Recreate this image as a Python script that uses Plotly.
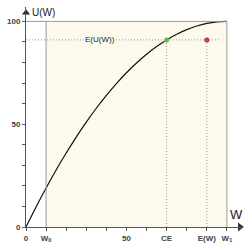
import plotly.graph_objects as go

# Data
W0 = 10
W1 = 100
CE = 70
EW = 90
EU = 91
curve_w = [0, 5, 10, 15, 20, 25, 30, 35, 40, 45, 50, 55, 60, 65, 70, 75, 80, 85, 90, 95, 100]
curve_u = [0, 9.75, 19, 27.75, 36, 43.75, 51, 57.75, 64, 69.75, 75, 79.75, 84, 87.75, 91, 93.75, 96, 97.75, 99, 99.75, 100]
xtick_vals = [0, W0, 50, CE, EW, W1]
xtick_text = ["0", "W<sub>0</sub>", "50", "CE", "E(W)", "W<sub>1</sub>"]
ytick_vals = [0, 50, 100]
ytick_text = ["0", "50", "100"]

gray = "#9a9a9a"
fig = go.Figure()

fig.add_shape(type="rect", x0=W0, x1=W1, y0=0, y1=100, xref="x", yref="y",
              fillcolor="#fdf9ec", line_width=0, layer="below")
fig.add_shape(type="line", x0=0, x1=W1, y0=100, y1=100, line=dict(color=gray, width=1))
fig.add_shape(type="line", x0=W0, x1=W0, y0=0, y1=100, line=dict(color=gray, width=1))
fig.add_shape(type="line", x0=W1, x1=W1, y0=0, y1=100, line=dict(color=gray, width=1))
fig.add_shape(type="line", x0=0, x1=W1 - 3, y0=EU, y1=EU, line=dict(color=gray, width=1, dash="1px,2px"))
fig.add_shape(type="line", x0=CE, x1=CE, y0=0, y1=EU, line=dict(color=gray, width=1, dash="1px,2px"))
fig.add_shape(type="line", x0=EW, x1=EW, y0=0, y1=EU, line=dict(color=gray, width=1, dash="1px,2px"))

fig.add_trace(go.Scatter(x=curve_w, y=curve_u, mode="lines", line=dict(color="#111111", width=1.2, shape="spline"),
                         hoverinfo="skip"))
fig.add_trace(go.Scatter(x=[CE], y=[EU], mode="markers", marker=dict(color="#44cc44", size=5)))
fig.add_trace(go.Scatter(x=[EW], y=[EU], mode="markers", marker=dict(color="#cc2244", size=5)))
# axis arrowheads
fig.add_trace(go.Scatter(x=[106.5], y=[0], mode="markers", cliponaxis=False,
                         marker=dict(symbol="triangle-right", color="#333", size=8, line_width=0)))
fig.add_trace(go.Scatter(x=[0], y=[104.2], mode="markers", cliponaxis=False,
                         marker=dict(symbol="triangle-up", color="#222", size=7, line_width=0)))

fig.add_annotation(x=36.8, y=EU, text="E(U(W))", showarrow=False, font=dict(size=8, color="#222", family="Arial"),
                   bgcolor="#fdf9ec", borderpad=0)
fig.add_annotation(x=105, y=6, text="W", showarrow=False, xanchor="center", yanchor="middle",
                   font=dict(size=13, color="#222", family="Arial"))
fig.add_annotation(x=2, y=104.3, text="U(W)", showarrow=False, xanchor="left", yanchor="middle",
                   font=dict(size=10, color="#222", family="Arial"))

tickfont = dict(size=8, color="#444", family="Arial", weight="bold")
fig.update_layout(
    width=250, height=250, margin=dict(l=18, r=7, t=7, b=18),
    plot_bgcolor="white", paper_bgcolor="white", showlegend=False,
    xaxis=dict(range=[0, 108], tickvals=xtick_vals, ticktext=xtick_text, showgrid=False, zeroline=False,
               showline=True, linecolor="#555", linewidth=1, ticks="outside", ticklen=3, tickcolor="#555",
               tickfont=tickfont,
               minor=dict(dtick=10, tick0=0, ticks="outside", ticklen=3, tickcolor="#555")),
    yaxis=dict(range=[0, 107], tickvals=ytick_vals, ticktext=ytick_text, showgrid=False, zeroline=False,
               showline=True, linecolor="#555", linewidth=1, ticks="outside", ticklen=3, tickcolor="#555",
               tickfont=tickfont,
               minor=dict(dtick=10, tick0=0, ticks="outside", ticklen=3, tickcolor="#555")),
)
fig.write_html("out.html")
